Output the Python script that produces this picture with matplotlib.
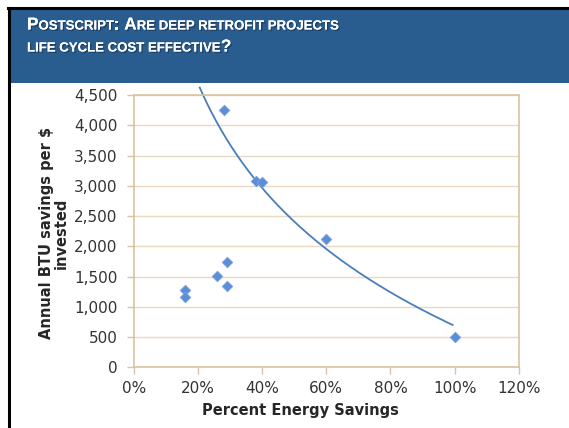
import numpy as np
import matplotlib.pyplot as plt
from matplotlib.patches import Rectangle
from matplotlib.lines import Line2D
import matplotlib.patheffects as pe

# data
savings = [0.28, 0.38, 0.40, 0.60, 0.29, 0.26, 0.29, 0.16, 0.16, 1.00]
btu_per_dollar = [4250, 3080, 3060, 2120, 1740, 1510, 1340, 1280, 1170, 500]

# logarithmic trendline y = a + b*ln(x)
trend_a = 685
trend_b = -2485
trend_range = (0.205, 0.994)

x_ticks = [0, 0.2, 0.4, 0.6, 0.8, 1.0, 1.2]
y_ticks = [0, 500, 1000, 1500, 2000, 2500, 3000, 3500, 4000, 4500]

title_parts = [
    [("P", True), ("OSTSCRIPT", False), (": ", True), ("A", True),
     ("RE DEEP RETROFIT PROJECTS", False)],
    [("LIFE CYCLE COST EFFECTIVE", False), ("?", True)],
]

grid_col = '#E8D9C2'
axis_col = '#D8C3A2'
blue = '#5B8ED6'

fig = plt.figure(figsize=(5.69, 4.28), dpi=100)
fig.patch.set_facecolor('white')

# header band and black frame lines
fig.patches.append(Rectangle((10 / 569, 1 - 83 / 428), 1, 74 / 428,
                             transform=fig.transFigure, facecolor='#295C8F',
                             edgecolor='none', zorder=0))
fig.lines.append(Line2D([8 / 569, 1], [1 - 8 / 428, 1 - 8 / 428],
                        transform=fig.transFigure, color='black', lw=2.2))
fig.lines.append(Line2D([9 / 569, 9 / 569], [0, 1 - 8 / 428],
                        transform=fig.transFigure, color='black', lw=2.2))

# small caps title
renderer = fig.canvas.get_renderer()
shadow = [pe.withSimplePatchShadow(offset=(1, -1), shadow_rgbFace='#1a3a5c', alpha=0.8),
          pe.Normal()]
line_y = [1 - 29.5 / 428, 1 - 51.5 / 428]
for parts, ly in zip(title_parts, line_y):
    x = 27 / 569
    for txt, big in parts:
        t = fig.text(x, ly, txt, color='white', fontweight='bold',
                     family='Liberation Sans', fontsize=12.4 if big else 9.5,
                     va='baseline', ha='left', path_effects=shadow)
        bb = t.get_window_extent(renderer=renderer)
        x += bb.width / 569

ax = fig.add_axes([134 / 569, 1 - 367.3 / 428, 384.7 / 569, 272.3 / 428])
ax.set_xlim(0, 1.2)
ax.set_ylim(0, 4500)
ax.set_xticks(x_ticks)
ax.set_yticks(y_ticks)
ax.set_xticklabels([f'{int(round(v * 100))}%' for v in x_ticks])
ax.set_yticklabels([f'{v:,}' for v in y_ticks])
ax.grid(axis='y', color=grid_col, lw=1)
ax.set_axisbelow(True)
for s in ax.spines.values():
    s.set_color(axis_col)
    s.set_linewidth(1.2)
ax.tick_params(colors=axis_col, labelcolor='#333333', labelsize=11,
               length=5, width=1)
ax.tick_params(axis='x', pad=5)
ax.tick_params(axis='y', pad=7)

xs = np.linspace(trend_range[0], trend_range[1], 200)
ax.plot(xs, trend_a + trend_b * np.log(xs), color='#4A7EBB', lw=1.3,
        clip_on=False, zorder=2)
ax.scatter(savings, btu_per_dollar, marker='D', s=30, color=blue,
           edgecolors='#7FA6DE', linewidths=0.5, zorder=3)

ax.set_xlabel('Percent Energy Savings', fontsize=10.5, fontweight='bold',
              color='#262626')
ax.xaxis.set_label_coords((300 - 134) / 384.7, -(410 - 367.3) / 272.3)
ax.xaxis.label.set_va('center')
ax.set_ylabel('Annual BTU savings per $\ninvested', fontsize=10.5,
              fontweight='bold', color='#262626', linespacing=1.0)
ax.yaxis.set_label_coords(-(134 - 54) / 384.7, (367.3 - 233) / 272.3)
ax.yaxis.label.set_va('center')

fig.savefig('out.png', dpi=100)
